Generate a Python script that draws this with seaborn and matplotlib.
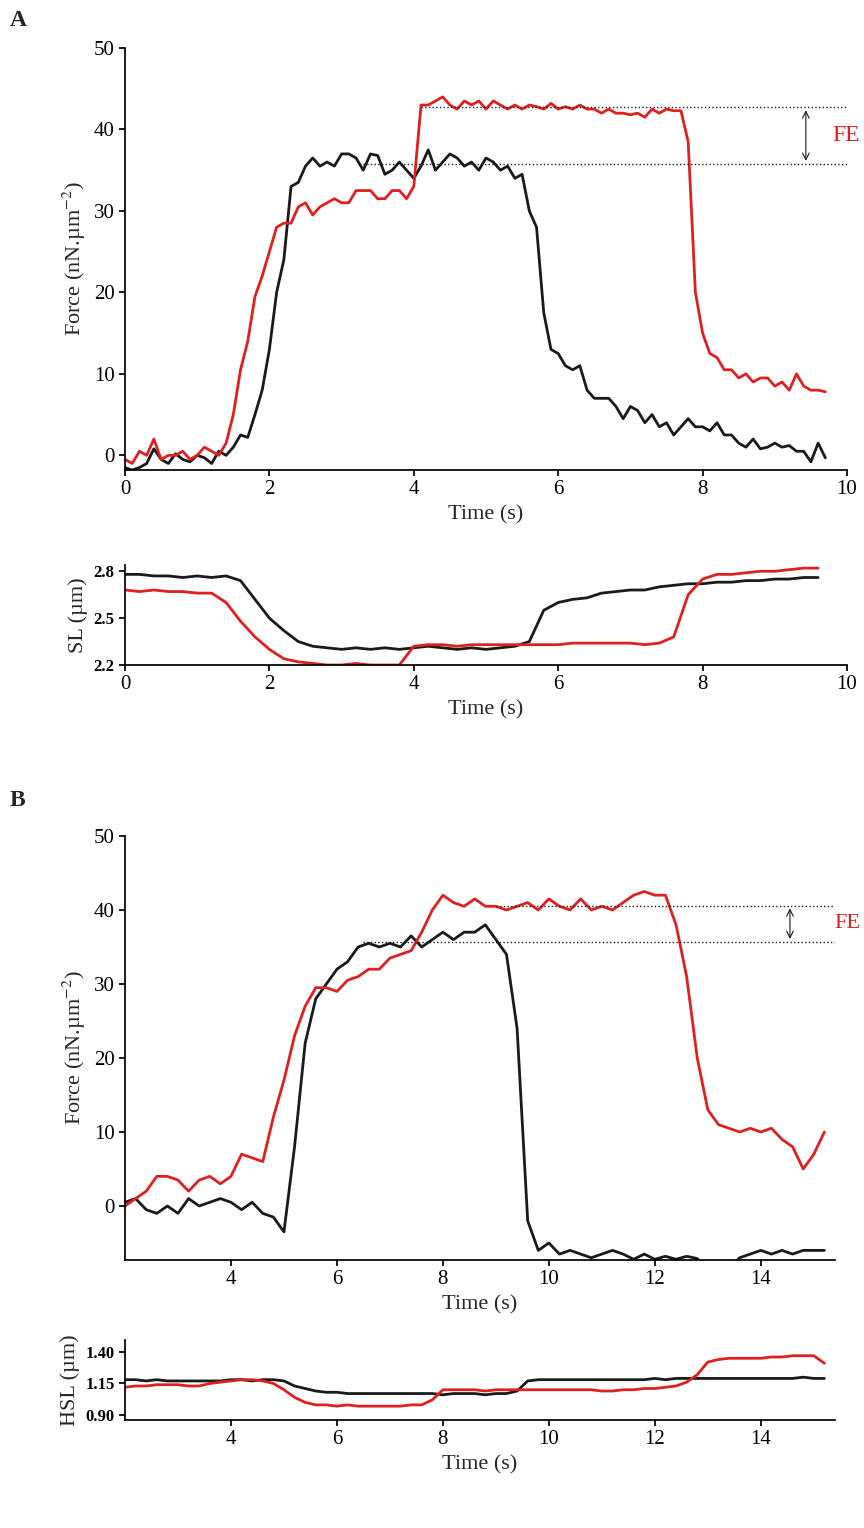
import numpy as np
import pandas as pd
import seaborn as sns
import matplotlib.pyplot as plt

sns.set_theme(style="ticks")
plt.rcParams['font.family'] = ['Liberation Serif', 'DejaVu Serif']
plt.rcParams['mathtext.fontset'] = 'stix'

# ---- panel A data (0.1 s steps) ----
tA = np.round(np.arange(0, 9.75, 0.1), 1)
forceA_black = [-1.5, -1.8, -1.5, -1.0, 0.8, -0.5, -1.0, 0.2, -0.5, -0.8,
                0, -0.3, -1.0, 0.5, 0, 1.0, 2.5, 2.2, 5, 8,
                13, 20, 24, 33, 33.5, 35.5, 36.5, 35.5, 36, 35.5,
                37, 37, 36.5, 35, 37, 36.8, 34.5, 35, 36, 35,
                34, 35.5, 37.5, 35, 36, 37, 36.5, 35.5, 36, 35,
                36.5, 36, 35, 35.5, 34, 34.5, 30, 28, 17.5, 13,
                12.5, 11, 10.5, 11, 8, 7, 7, 7, 6, 4.5,
                6, 5.5, 4, 5, 3.5, 4, 2.5, 3.5, 4.5, 3.5,
                3.5, 3, 4, 2.5, 2.5, 1.5, 1, 2, 0.8, 1,
                1.5, 1, 1.2, 0.5, 0.5, -0.8, 1.5, -0.3]
forceA_red = [-0.5, -1, 0.5, 0, 2, -0.5, 0, 0, 0.5, -0.5,
              0, 1, 0.5, 0, 1.5, 5, 10.5, 14, 19.5, 22,
              25, 28, 28.5, 28.5, 30.5, 31, 29.5, 30.5, 31, 31.5,
              31, 31, 32.5, 32.5, 32.5, 31.5, 31.5, 32.5, 32.5, 31.5,
              33, 43, 43, 43.5, 44, 43, 42.5, 43.5, 43, 43.5,
              42.5, 43.5, 43, 42.5, 43, 42.5, 43, 42.8, 42.5, 43.2,
              42.5, 42.8, 42.5, 43, 42.5, 42.5, 42, 42.5, 42, 42,
              41.8, 42, 41.5, 42.5, 42, 42.5, 42.3, 42.3, 38.5, 20,
              15, 12.5, 12, 10.5, 10.5, 9.5, 10, 9, 9.5, 9.5,
              8.5, 9, 8, 10, 8.5, 8, 8, 7.8]

tA_sl = np.round(np.arange(0, 9.75, 0.2), 1)
slA_black = [2.78, 2.78, 2.77, 2.77, 2.76, 2.77, 2.76, 2.77, 2.74, 2.62,
             2.5, 2.42, 2.35, 2.32, 2.31, 2.3, 2.31, 2.3, 2.31, 2.3,
             2.31, 2.32, 2.31, 2.3, 2.31, 2.3, 2.31, 2.32, 2.35, 2.55,
             2.6, 2.62, 2.63, 2.66, 2.67, 2.68, 2.68, 2.7, 2.71, 2.72,
             2.72, 2.73, 2.73, 2.74, 2.74, 2.75, 2.75, 2.76, 2.76]
slA_red = [2.68, 2.67, 2.68, 2.67, 2.67, 2.66, 2.66, 2.6, 2.48, 2.38,
           2.3, 2.24, 2.22, 2.21, 2.2, 2.2, 2.21, 2.2, 2.2, 2.2,
           2.32, 2.33, 2.33, 2.32, 2.33, 2.33, 2.33, 2.33, 2.33, 2.33,
           2.33, 2.34, 2.34, 2.34, 2.34, 2.34, 2.33, 2.34, 2.38, 2.65,
           2.75, 2.78, 2.78, 2.79, 2.8, 2.8, 2.81, 2.82, 2.82]

# ---- panel B data (0.2 s steps) ----
tB = np.round(np.arange(2.0, 15.25, 0.2), 1)
forceB_black = [0.5, 1, -0.5, -1, 0, -1, 1, 0, 0.5, 1,
                0.5, -0.5, 0.5, -1, -1.5, -3.5, 8, 22, 28, 30,
                32, 33, 35, 35.5, 35, 35.5, 35, 36.5, 35, 36,
                37, 36, 37, 37, 38, 36, 34, 24, -2, -6,
                -5, -6.5, -6, -6.5, -7, -6.5, -6, -6.5, -7.2, -6.5,
                -7.2, -6.8, -7.2, -6.8, -7.1, -9, -9, -8.5, -7, -6.5,
                -6, -6.5, -6, -6.5, -6, -6, -6]
forceB_red = [0, 1, 2, 4, 4, 3.5, 2, 3.5, 4, 3,
              4, 7, 6.5, 6, 12, 17, 23, 27, 29.5, 29.5,
              29, 30.5, 31, 32, 32, 33.5, 34, 34.5, 37, 40,
              42, 41, 40.5, 41.5, 40.5, 40.5, 40, 40.5, 41, 40,
              41.5, 40.5, 40, 41.5, 40, 40.5, 40, 41, 42, 42.5,
              42, 42, 38, 31, 20, 13, 11, 10.5, 10, 10.5,
              10, 10.5, 9, 8, 5, 7, 10]
hslB_black = [1.18, 1.18, 1.17, 1.18, 1.17, 1.17, 1.17, 1.17, 1.17, 1.17,
              1.18, 1.18, 1.17, 1.18, 1.18, 1.17, 1.13, 1.11, 1.09, 1.08,
              1.08, 1.07, 1.07, 1.07, 1.07, 1.07, 1.07, 1.07, 1.07, 1.07,
              1.06, 1.07, 1.07, 1.07, 1.06, 1.07, 1.07, 1.09, 1.17, 1.18,
              1.18, 1.18, 1.18, 1.18, 1.18, 1.18, 1.18, 1.18, 1.18, 1.18,
              1.19, 1.18, 1.19, 1.19, 1.19, 1.19, 1.19, 1.19, 1.19, 1.19,
              1.19, 1.19, 1.19, 1.19, 1.2, 1.19, 1.19]
hslB_red = [1.12, 1.13, 1.13, 1.14, 1.14, 1.14, 1.13, 1.13, 1.15, 1.16,
            1.17, 1.18, 1.18, 1.17, 1.15, 1.1, 1.04, 1.0, 0.98, 0.98,
            0.97, 0.98, 0.97, 0.97, 0.97, 0.97, 0.97, 0.98, 0.98, 1.02,
            1.1, 1.1, 1.1, 1.1, 1.09, 1.1, 1.1, 1.1, 1.1, 1.1,
            1.1, 1.1, 1.1, 1.1, 1.1, 1.09, 1.09, 1.1, 1.1, 1.11,
            1.11, 1.12, 1.13, 1.16, 1.22, 1.32, 1.34, 1.35, 1.35, 1.35,
            1.35, 1.36, 1.36, 1.37, 1.37, 1.37, 1.31]

RED = '#e02020'
BLK = '#1a1a1a'
W, H = 864, 1528
fig = plt.figure(figsize=(W / 100, H / 100), dpi=100)

def ax_at(l, t, r, b):
    return fig.add_axes([l / W, 1 - b / H, (r - l) / W, (b - t) / H])

def style(ax, bold=False):
    sns.despine(ax=ax)
    ax.tick_params(direction='out', length=4, labelsize=15, colors='black')
    for s in ax.spines.values():
        s.set_color('black')
    if bold:
        for lab in ax.get_yticklabels():
            lab.set_fontweight('bold')
            lab.set_fontsize(12)

def trace(ax, x, y, c):
    sns.lineplot(x=x, y=y, ax=ax, color=c, lw=2, estimator=None)

# A force
ax1 = ax_at(125, 48, 847, 470)
trace(ax1, tA, forceA_black, BLK)
trace(ax1, tA, forceA_red, RED)
ax1.set_xlim(0, 10); ax1.set_ylim(-1.8, 50)
ax1.set_xticks(range(0, 11, 2)); ax1.set_yticks(range(0, 51, 10))
ax1.hlines([42.7], 4.1, 10, colors='k', linestyles=':', lw=1)
ax1.hlines([35.8], 3.3, 10, colors='k', linestyles=':', lw=1)
ax1.annotate('', xy=(9.43, 35.8), xytext=(9.43, 42.7),
             arrowprops=dict(arrowstyle='<->', lw=0.8, color='k'))
ax1.text(9.8, 39.3, 'FE', color=RED, fontsize=17, va='center')
ax1.set_xlabel('Time (s)', fontsize=16)
ax1.set_ylabel('Force (nN.µm$^{-2}$)', fontsize=16)
style(ax1)
fig.text(10 / W, 1 - 20 / H, 'A', fontsize=17, fontweight='bold', va='center')

# A SL
ax2 = ax_at(125, 565, 847, 665)
trace(ax2, tA_sl, slA_black, BLK)
trace(ax2, tA_sl, slA_red, RED)
ax2.set_xlim(0, 10); ax2.set_ylim(2.2, 2.84)
ax2.set_xticks(range(0, 11, 2)); ax2.set_yticks([2.2, 2.5, 2.8])
ax2.set_xlabel('Time (s)', fontsize=16)
ax2.set_ylabel('SL (µm)', fontsize=16)
style(ax2, bold=True)

# B force
ax3 = ax_at(125, 836, 835, 1260)
trace(ax3, tB, forceB_black, BLK)
trace(ax3, tB, forceB_red, RED)
ax3.set_xlim(2, 15.4); ax3.set_ylim(-7.3, 50)
ax3.set_xticks(range(4, 15, 2)); ax3.set_yticks(range(0, 51, 10))
ax3.hlines([40.6], 9.0, 15.4, colors='k', linestyles=':', lw=1)
ax3.hlines([35.7], 6.5, 15.4, colors='k', linestyles=':', lw=1)
ax3.annotate('', xy=(14.55, 35.7), xytext=(14.55, 40.6),
             arrowprops=dict(arrowstyle='<->', lw=0.8, color='k'))
ax3.text(15.38, 38.2, 'FE', color=RED, fontsize=16, va='center', clip_on=False)
ax3.set_xlabel('Time (s)', fontsize=16)
ax3.set_ylabel('Force (nN.µm$^{-2}$)', fontsize=16)
style(ax3)
fig.text(10 / W, 1 - 800 / H, 'B', fontsize=17, fontweight='bold', va='center')

# B HSL
ax4 = ax_at(125, 1340, 835, 1420)
trace(ax4, tB, hslB_black, BLK)
trace(ax4, tB, hslB_red, RED)
ax4.set_xlim(2, 15.4); ax4.set_ylim(0.86, 1.495)
ax4.set_xticks(range(4, 15, 2)); ax4.set_yticks([0.90, 1.15, 1.40])
ax4.set_yticklabels(['0.90', '1.15', '1.40'])
ax4.set_xlabel('Time (s)', fontsize=16)
ax4.set_ylabel('HSL (µm)', fontsize=16)
style(ax4, bold=True)

fig.savefig('out.png', dpi=100)
